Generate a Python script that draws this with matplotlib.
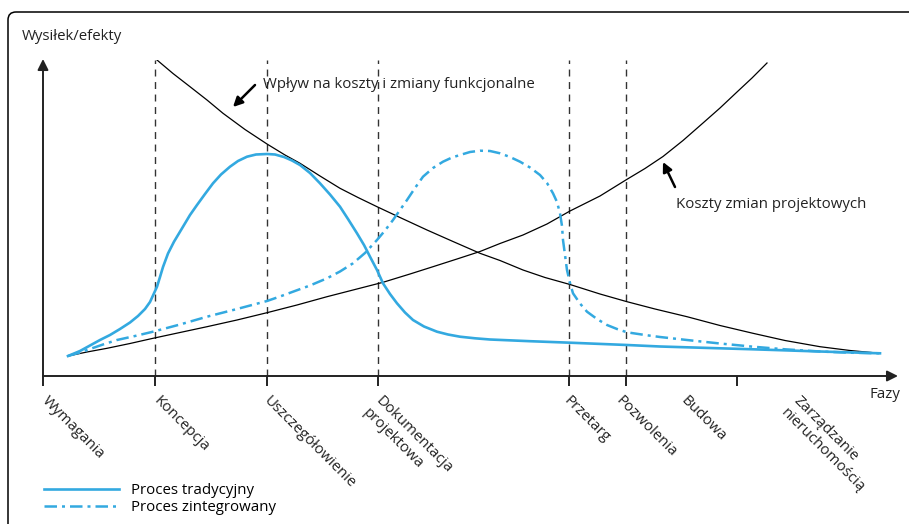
import matplotlib
matplotlib.use("Agg")
import matplotlib.pyplot as plt
from matplotlib.patches import FancyBboxPatch
from matplotlib.transforms import IdentityTransform

plt.rcParams["font.family"] = ["Open Sans", "DejaVu Sans"]
FS = 10.8

# --- data (arbitrary effort units) ---
trad_x = [25, 37, 47, 57, 67, 77, 87, 95, 102, 107, 110, 114, 117, 120, 125,
          131, 140, 147, 154, 162, 170, 178, 187, 195, 204, 213, 224,
          232, 241, 249, 257, 267, 277, 287, 297, 305, 314, 321, 327, 334, 340,
          347, 354, 362, 370, 381, 394, 405, 417, 432, 447, 487, 527, 584, 617,
          710, 777, 837]
trad_y = [20, 25, 30.5, 36, 41, 47, 53.5, 60, 67, 74, 80.5, 89.3, 99, 109,
          122.5, 134.3, 149.3, 161, 171, 182, 192.7, 201.5,
          209.3, 215, 219.3, 221.5, 222, 221.5, 219, 215.5, 211, 203, 192.7,
          181.5, 169.3, 157, 142.7, 131, 119.3, 106, 92.7, 82, 72.7, 63.5, 56,
          49.5, 44.3, 41.5, 39.3, 37.7, 36.5, 34.8, 33.3, 31, 29.5, 26.7, 24.5,
          22.7]

integ_x = [25, 37, 47, 60, 74, 92, 110, 137, 164, 194, 224, 237, 250, 267, 284,
           297, 310, 322, 334, 342, 350, 357, 364, 372, 380, 390, 400, 409, 417,
           427, 437, 447, 457, 467, 477, 487, 497, 504, 510, 514, 517, 519, 520,
           522, 524, 527, 530, 537, 544, 554, 564, 574, 584, 602, 617, 644, 677,
           710, 742, 777, 807, 837]
integ_y = [20, 23.5, 27, 31.5, 36, 40, 44.3, 51.5, 59.3, 67, 75, 79.5, 84.3,
           90.5, 97.7, 104.5, 112.7, 123, 136, 145.5, 156, 166, 176, 188, 199.3,
           208, 214.3, 218.5, 221, 224, 225.3, 225, 222.7, 219, 214.3, 208.5,
           201, 193, 182.7, 174, 162.7, 150, 136, 121, 106, 93, 82.7, 72.5,
           64.3, 57, 51, 47, 43.7, 41, 39, 36, 32.5, 29.3, 26.7, 24.5, 23.3,
           22.7]

wplyw_x = [114, 130, 147, 164, 180, 202, 224, 242, 257, 277, 297, 315, 334,
           357, 384, 410, 437, 457, 480, 502, 527, 557, 584, 612, 644, 677, 710,
           742, 777, 807, 837]
wplyw_y = [316, 302.5, 289.3, 276, 262.7, 246.5, 232, 221, 212.7, 200, 187.7,
           178.5, 169.3, 158.5, 146, 134.5, 122.7, 115.5, 106, 98.5, 91.5, 82,
           74.3, 67, 59.3, 50.5, 42.7, 35.5, 29.3, 25.5, 22.7]

koszty_x = [25, 44, 64, 87, 110, 137, 164, 194, 224, 254, 284, 312, 340, 367,
            390, 414, 437, 457, 480, 504, 527, 557, 584, 602, 620, 640, 660,
            677, 694, 709, 724]
koszty_y = [20, 24, 27.7, 32.5, 37.7, 43.5, 49.3, 56, 63.3, 71, 79.3, 86.5,
            93.7, 102, 109.3, 117, 124.5, 132.5, 141, 152, 165, 180, 196.7,
            207.5, 219.5, 235.5, 253, 268, 284, 298, 313]

tick_pos = [0, 112, 224, 335, 526, 583, 694]
phase_lines = [112, 224, 335, 526, 583]
phase_labels = ["Wymagania", "Koncepcja", "Uszczegółowienie",
                "Dokumentacja\nprojektowa", "Przetarg", "Pozwolenia", "Budowa",
                "Zarządzanie\nnieruchomością"]
label_pos = [6, 118, 228, 340, 528, 580, 645, 758]

BLUE = "#33a9e0"
INK = "#222222"
W, H = 909, 524

fig = plt.figure(figsize=(W / 100, H / 100), dpi=100)
ax = fig.add_axes([43 / W, 148 / H, 854 / W, 316 / H])
ax.set_xlim(0, 854)
ax.set_ylim(0, 316)
for s in ax.spines.values():
    s.set_visible(False)

# axes with arrow heads
arr = dict(arrowstyle="-|>", lw=1.4, color=INK, mutation_scale=16,
           shrinkA=0, shrinkB=0)
ax.annotate("", xy=(855, 0), xytext=(0, 0), arrowprops=arr, annotation_clip=False)
ax.annotate("", xy=(0, 317), xytext=(0, 0), arrowprops=arr, annotation_clip=False)

ax.set_yticks([])
ax.set_xticks(tick_pos)
ax.set_xticklabels([])
ax.tick_params(axis="x", direction="out", length=7, width=1.4, color=INK)

for xv in phase_lines:
    ax.axvline(xv, ymin=0, ymax=1, color="#333333", lw=1, ls=(0, (5, 4)))

ax.plot(wplyw_x, wplyw_y, color="black", lw=0.9)
ax.plot(koszty_x, koszty_y, color="black", lw=0.9)
l1, = ax.plot(trad_x, trad_y, color=BLUE, lw=1.9, label="Proces tradycyjny")
l2, = ax.plot(integ_x, integ_y, color=BLUE, lw=1.8, ls=(0, (5, 2, 1.2, 2)),
              label="Proces zintegrowany")

for lab, xv in zip(phase_labels, label_pos):
    ax.text(xv, -17, lab, rotation=-45, rotation_mode="anchor", ha="left",
            va="top", fontsize=FS, color=INK, clip_on=False)

ax.text(857, -19, "Fazy", ha="right", va="center", fontsize=FS, color=INK)
fig.text(22 / W, 1 - 36 / H, "Wysiłek/efekty", ha="left", va="center",
         fontsize=FS, color=INK)

ah = dict(arrowstyle="-|>", lw=1.8, color="black", mutation_scale=14,
          shrinkA=0, shrinkB=0)
ax.annotate("", xy=(190, 269), xytext=(212, 291), arrowprops=ah)
ax.text(220, 292, "Wpływ na koszty i zmiany funkcjonalne", ha="left",
        va="center", fontsize=FS, color=INK)
ax.annotate("", xy=(620, 214), xytext=(632, 189), arrowprops=ah)
ax.text(633, 172, "Koszty zmian projektowych", ha="left", va="center",
        fontsize=FS, color=INK)

ax.legend(handles=[l1, l2], loc="upper left", frameon=False,
          bbox_to_anchor=(44 / W, 1 - 483 / H), bbox_transform=fig.transFigure,
          borderpad=0, borderaxespad=0, handlelength=5.0, handletextpad=0.8,
          labelspacing=0.15, fontsize=FS)

# rounded frame, partly off canvas
frame = FancyBboxPatch((8, -30), W + 30, H - 12 + 30,
                       boxstyle="round,pad=0,rounding_size=8",
                       transform=IdentityTransform(), fill=False,
                       ec="black", lw=1.1)
fig.patches.append(frame)

fig.savefig("out.png", dpi=100)
